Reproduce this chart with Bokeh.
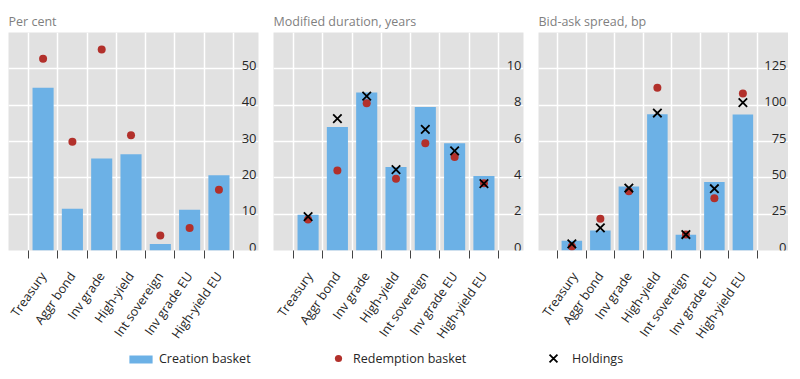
import math
from bokeh.plotting import figure
from bokeh.models import Range1d, FixedTicker, Legend, LegendItem
from bokeh.layouts import row, column
from bokeh.embed import file_html
from bokeh.resources import INLINE
from bokeh.core.properties import value

categories = ["Treasury", "Aggr bond", "Inv grade", "High-yield",
              "Int sovereign", "Inv grade EU", "High-yield EU"]

# Panel 1: per cent
pct_creation = [44.8, 11.5, 25.3, 26.5, 1.8, 11.2, 20.7]
pct_redemption = [52.8, 29.9, 55.3, 31.7, 4.1, 6.2, 16.7]
pct_ticks = [0, 10, 20, 30, 40, 50]
pct_max = 60

# Panel 2: modified duration, years
dur_creation = [1.97, 6.8, 8.7, 4.6, 7.9, 5.9, 4.1]
dur_redemption = [1.7, 4.4, 8.1, 3.95, 5.9, 5.15, 3.7]
dur_holdings = [1.87, 7.26, 8.5, 4.45, 6.67, 5.48, 3.68]
dur_ticks = [0, 2, 4, 6, 8, 10]
dur_max = 12

# Panel 3: bid-ask spread, bp
ba_creation = [6.7, 13.8, 44.1, 93.7, 10.8, 47.1, 93.5]
ba_redemption = [2.8, 21.8, 40.7, 112, 11, 36, 108]
ba_holdings = [4.6, 15.6, 43, 94.6, 11, 42.5, 101.8]
ba_ticks = [0, 25, 50, 75, 100, 125]
ba_max = 150

titles = ["Per cent", "Modified duration, years", "Bid-ask spread, bp"]
legend_labels = ["Creation basket", "Redemption basket", "Holdings"]

FONT = "Open Sans"
BG = "#E1E1E1"
BLUE = "#6CB1E6"
RED = "#B2302B"
TXT = "#262626"


def panel(title, creation, redemption, holdings, ticks, ymax, x_start, x_end,
          border_left, border_right):
    xs = list(range(len(categories)))
    bounds = [i - 0.5 for i in range(len(categories) + 1)]
    p = figure(frame_width=250, frame_height=218,
               x_range=Range1d(x_start, x_end), y_range=Range1d(0, ymax),
               output_backend="svg", toolbar_location=None,
               y_axis_location=None,
               min_border_left=border_left, min_border_right=border_right,
               min_border_top=32, min_border_bottom=10,
               background_fill_color=BG, outline_line_color=None,
               title=title)
    p.title.text_font = FONT
    p.title.text_font_size = "12.5px"
    p.title.text_font_style = "normal"
    p.title.text_color = "#7F7F7F"
    p.title.align = "left"
    p.title.offset = 0
    p.title.standoff = 6

    p.xgrid.ticker = FixedTicker(ticks=bounds)
    p.ygrid.ticker = FixedTicker(ticks=ticks)
    p.grid.grid_line_color = "white"
    p.grid.grid_line_width = 1.5

    ax = p.xaxis[0]
    ax.ticker = FixedTicker(ticks=xs, minor_ticks=bounds)
    ax.major_label_overrides = {i: c for i, c in enumerate(categories)}
    ax.axis_line_color = None
    ax.major_tick_line_color = None
    ax.major_tick_out = 8
    ax.major_tick_in = 0
    ax.minor_tick_line_color = "#444444"
    ax.minor_tick_out = 8
    ax.minor_tick_in = 0
    ax.major_label_orientation = math.radians(55)
    ax.major_label_standoff = 15
    ax.major_label_text_font = FONT
    ax.major_label_text_font_size = "12.5px"
    ax.major_label_text_color = TXT

    p.vbar(x=xs, top=creation, width=0.72, fill_color=BLUE, line_color=None)
    p.scatter(x=xs, y=redemption, size=8, fill_color=RED, line_color=None)
    if holdings is not None:
        p.scatter(x=xs, y=holdings, marker="x", size=12,
                  line_color="black", line_width=1.8)

    p.text(x=[x_end] * len(ticks), y=ticks, text=[str(t) for t in ticks],
           text_align="right", text_baseline="bottom", x_offset=-2, y_offset=1,
           text_font=value(FONT), text_font_size="13px", text_color=TXT)
    return p


p1 = panel(titles[0], pct_creation, pct_redemption, None, pct_ticks, pct_max, -1.18, 7.35, 8, 15)
p2 = panel(titles[1], dur_creation, dur_redemption, dur_holdings, dur_ticks, dur_max, -1.18, 7.35, 0, 15)
p3 = panel(titles[2], ba_creation, ba_redemption, ba_holdings, ba_ticks, ba_max, -1.17, 7.6, 0, 0)

# Legend strip (renderers hold a point outside the visible range so only the legend shows)
lf = figure(frame_width=788, frame_height=30, x_range=Range1d(0, 1), y_range=Range1d(0, 1),
            output_backend="svg", toolbar_location=None,
            x_axis_location=None, y_axis_location=None,
            min_border_left=0, min_border_right=0, min_border_top=0, min_border_bottom=0,
            outline_line_color=None)
lf.grid.visible = False
r1 = lf.vbar(x=[-5], top=[-5], width=0.5, fill_color=BLUE, line_color=None)
r2 = lf.scatter(x=[-5], y=[-5], size=8, fill_color=RED, line_color=None)
r3 = lf.scatter(x=[-5], y=[-5], marker="x", size=12, line_color="black", line_width=1.8)


def make_legend(label, rend, loc, gw, gh, standoff):
    leg = Legend(items=[LegendItem(label=label, renderers=[rend])], location=loc,
                 glyph_width=gw, glyph_height=gh, label_standoff=standoff,
                 padding=0, margin=0, spacing=0, border_line_color=None,
                 background_fill_alpha=0, label_text_font=FONT,
                 label_text_font_size="12.5px", label_text_color=TXT,
                 label_height=16)
    lf.add_layout(leg)


make_legend(legend_labels[0], r1, (126, 12), 29, 10, 4)
make_legend(legend_labels[1], r2, (329, 12), 18, 18, 6)
make_legend(legend_labels[2], r3, (539, 7), 28, 28, 5)

layout = column(row(p1, p2, p3), lf)

open("out.html", "w").write(file_html(layout, INLINE))
